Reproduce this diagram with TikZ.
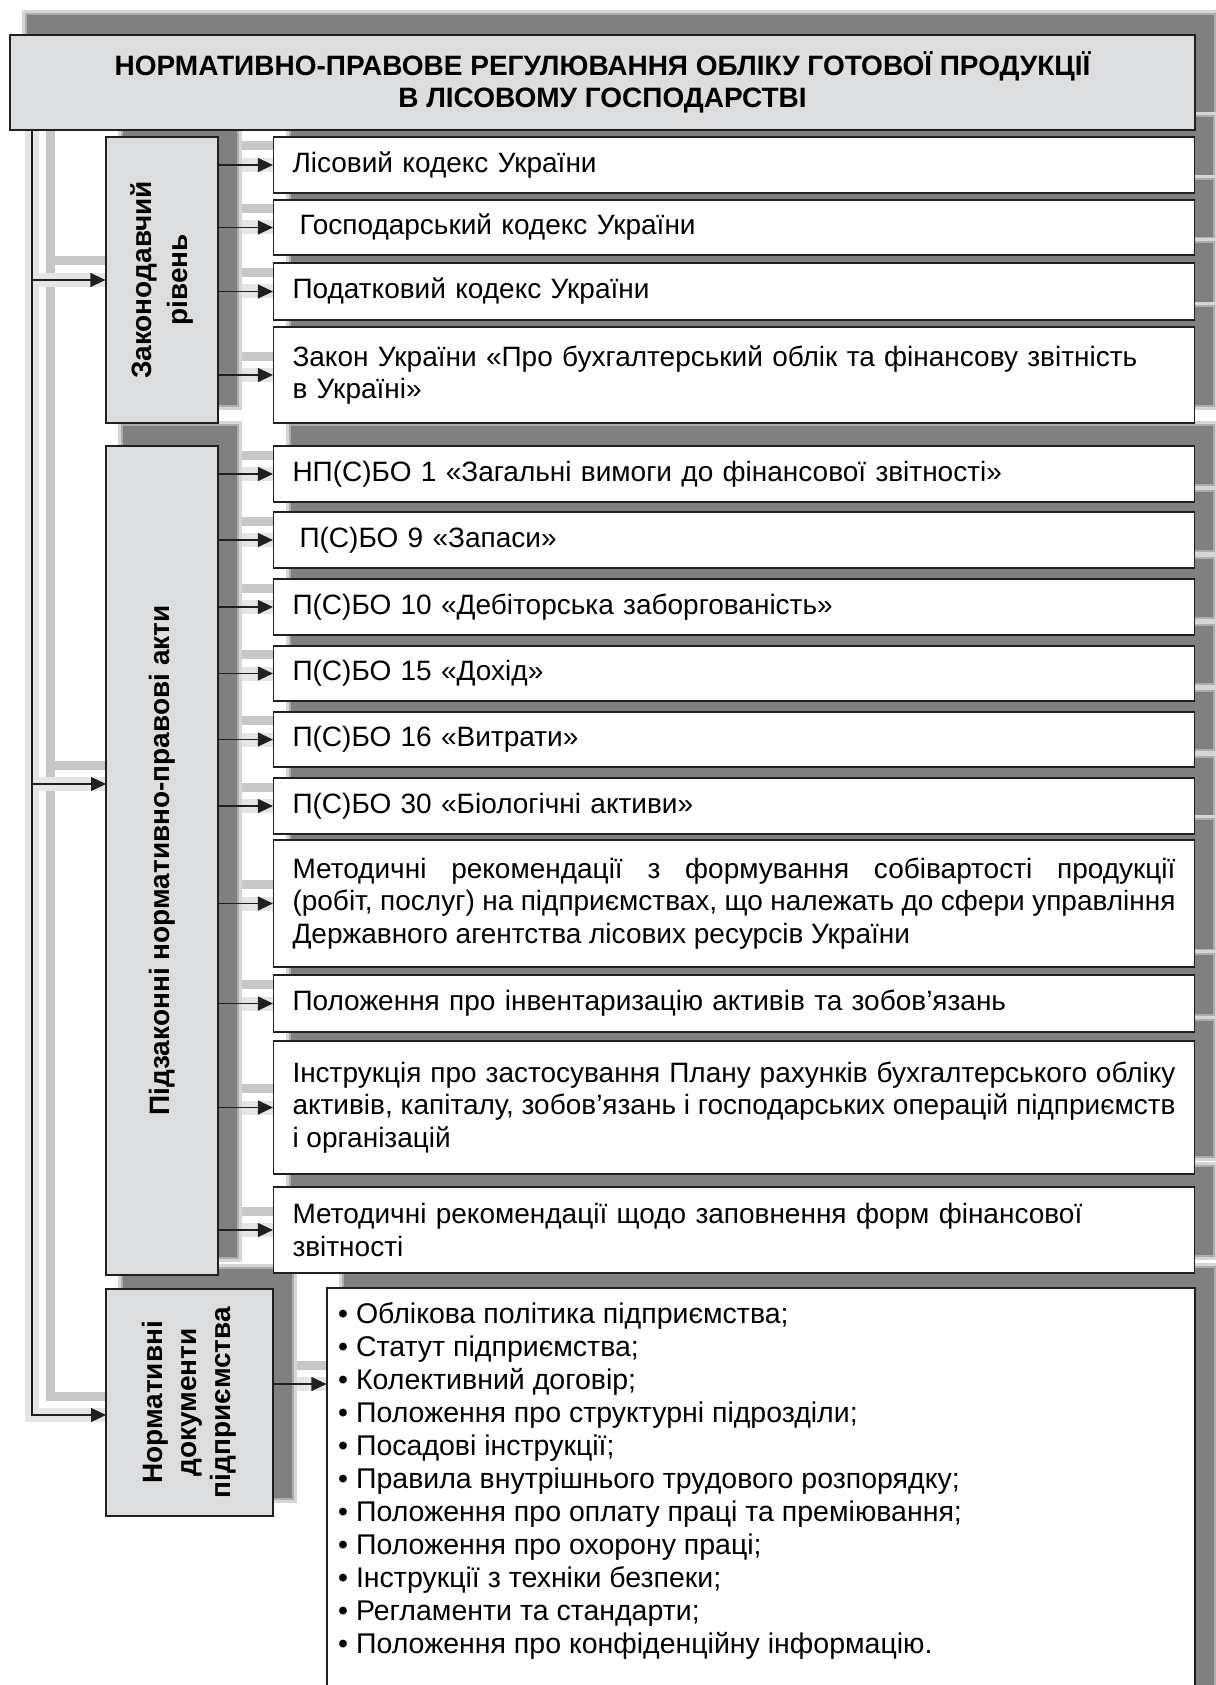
\documentclass[tikz,border=0pt]{standalone}
\usepackage{fontspec}
\setmainfont{Liberation Sans}
\usetikzlibrary{arrows.meta}
\pgfdeclarelayer{bg}
\pgfsetlayers{bg,main}
\definecolor{boxgray}{HTML}{DCDDDF}
\definecolor{ink}{HTML}{231F20}
\newcommand{\shadowbox}[1]{%
  \fill[black!16] ([shift={(13,-14)}]#1.south west) rectangle ([shift={(23,-24)}]#1.north east);
  \fill[black!32] ([shift={(16,-17)}]#1.south west) rectangle ([shift={(20,-21)}]#1.north east);
  \fill[black!50] ([shift={(18,-19)}]#1.south west) rectangle ([shift={(18,-19)}]#1.north east);}

\begin{document}
\begin{tikzpicture}[x=1pt,y=-1pt,font=\fontsize{28}{32.5}\selectfont,
    title/.style={draw=ink,line width=1.2pt,fill=boxgray,minimum width=1185pt,minimum height=95pt,
      align=center,font=\fontsize{28}{32}\selectfont\bfseries},
    lbox/.style={draw=ink,line width=1.2pt,fill=boxgray},
    ltext/.style={rotate=90,align=center,font=\fontsize{28}{36}\selectfont\bfseries},
    rbox/.style={draw=ink,line width=1.2pt,fill=white,text width=883pt,inner xsep=19pt,align=left},
    conn/.style={draw=ink,line width=1.2pt,-{Triangle[length=15pt,width=14pt]}},
    connshadow/.style={draw=black!22,line width=9pt,preaction={draw=black!10,line width=14pt},
      transform canvas={xshift=18pt,yshift=19pt}}]
  \useasboundingbox (0,0) rectangle (1215,1685);

  \node[title] (title) at (602.5,82.5) {НОРМАТИВНО-ПРАВОВЕ РЕГУЛЮВАННЯ ОБЛІКУ ГОТОВОЇ ПРОДУКЦІЇ\\В ЛІСОВОМУ ГОСПОДАРСТВІ};

  \node[lbox,minimum width=112pt,minimum height=286pt] (lv1) at (162,280) {};
  \node[ltext] (lv1t) at (lv1) {Законодавчий\\рівень};
  \node[lbox,minimum width=112pt,minimum height=829pt] (lv2) at (162,860.5) {};
  \node[ltext] (lv2t) at (lv2) {Підзаконні нормативно-правові акти};
  \node[lbox,minimum width=167pt,minimum height=227pt] (lv3) at (189.5,1402.5) {};
  \node[ltext,font=\fontsize{28}{34}\selectfont\bfseries] (lv3t) at (lv3) {Нормативні\\документи\\підприємства};

  \node[rbox,minimum height=56pt] (r1) at (734,165) {Лісовий кодекс України};
  \node[rbox,minimum height=55pt] (r2) at (734,227.5) {\hspace*{7pt}Господарський кодекс України};
  \node[rbox,minimum height=57pt] (r3) at (734,291.5) {Податковий кодекс України};
  \node[rbox,minimum height=96pt] (r4) at (734,375) {Закон України «Про бухгалтерський облік та фінансову звітність\\в Україні»};
  \node[rbox,minimum height=56pt] (r5) at (734,474) {НП(С)БО 1 «Загальні вимоги до фінансової звітності»};
  \node[rbox,minimum height=56pt] (r6) at (734,540) {\hspace*{7pt}П(С)БО 9 «Запаси»};
  \node[rbox,minimum height=56pt] (r7) at (734,607) {П(С)БО 10 «Дебіторська заборгованість»};
  \node[rbox,minimum height=55pt] (r8) at (734,673.5) {П(С)БО 15 «Дохід»};
  \node[rbox,minimum height=55pt] (r9) at (734,739.5) {П(С)БО 16 «Витрати»};
  \node[rbox,minimum height=56pt] (r10) at (734,806) {П(С)БО 30 «Біологічні активи»};
  \node[rbox,minimum height=127pt,align=justify] (r11) at (734,903.5) {Методичні рекомендації з формування собівартості продукції\linebreak (робіт, послуг) на підприємствах, що належать до сфери управління\linebreak Державного агентства лісових ресурсів України};
  \node[rbox,minimum height=57pt] (r12) at (734,1003.5) {Положення про інвентаризацію активів та зобов’язань};
  \node[rbox,minimum height=133pt,align=justify] (r13) at (734,1107.5) {Інструкція про застосування Плану рахунків бухгалтерського обліку\linebreak активів, капіталу, зобов’язань і господарських операцій підприємств\linebreak і організацій};
  \node[rbox,minimum height=86pt] (r14) at (734,1230) {Методичні рекомендації щодо заповнення форм фінансової\\звітності};

  \node[draw=ink,line width=1.2pt,fill=white,minimum width=868pt,minimum height=440pt] (lst) at (761,1508) {};
  \node[anchor=north west,inner sep=0pt,align=left,font=\fontsize{28.5}{33}\selectfont] (lsttxt) at (338,1302) {%
    • Облікова політика підприємства;\\
    • Статут підприємства;\\
    • Колективний договір;\\
    • Положення про структурні підрозділи;\\
    • Посадові інструкції;\\
    • Правила внутрішнього трудового розпорядку;\\
    • Положення про оплату праці та преміювання;\\
    • Положення про охорону праці;\\
    • Інструкції з техніки безпеки;\\
    • Регламенти та стандарти;\\
    • Положення про конфіденційну інформацію.};

  \coordinate (trunk) at (32,130);
  \coordinate (in2) at (106,784);
  \coordinate (in3) at (106,1415);
  \coordinate (out3) at (300,1384);

  \draw[conn] (trunk) |- (in3);
  \draw[conn] (trunk |- lv1.west) -- (lv1.west);
  \draw[conn] (trunk |- in2) -- (in2);
  \foreach \i in {1,...,4} \draw[conn] (lv1.east |- r\i.west) -- (r\i.west);
  \foreach \i in {5,...,14} \draw[conn] (lv2.east |- r\i.west) -- (r\i.west);
  \draw[conn] (lv3.east |- out3) -- (lst.west |- out3);

  \begin{pgfonlayer}{bg}
    \draw[connshadow] (trunk) |- (in3);
    \draw[connshadow] (trunk |- lv1.west) -- (lv1.west);
    \draw[connshadow] (trunk |- in2) -- (in2);
    \foreach \i in {1,...,4} \draw[connshadow] (lv1.east |- r\i.west) -- (r\i.west);
    \foreach \i in {5,...,14} \draw[connshadow] (lv2.east |- r\i.west) -- (r\i.west);
    \draw[connshadow] (lv3.east |- out3) -- (lst.west |- out3);
    \foreach \n in {title,lv1,lv2,lv3,lst} {\shadowbox{\n}}
    \foreach \i in {1,...,14} {\shadowbox{r\i}}
  \end{pgfonlayer}
\end{tikzpicture}
\end{document}
